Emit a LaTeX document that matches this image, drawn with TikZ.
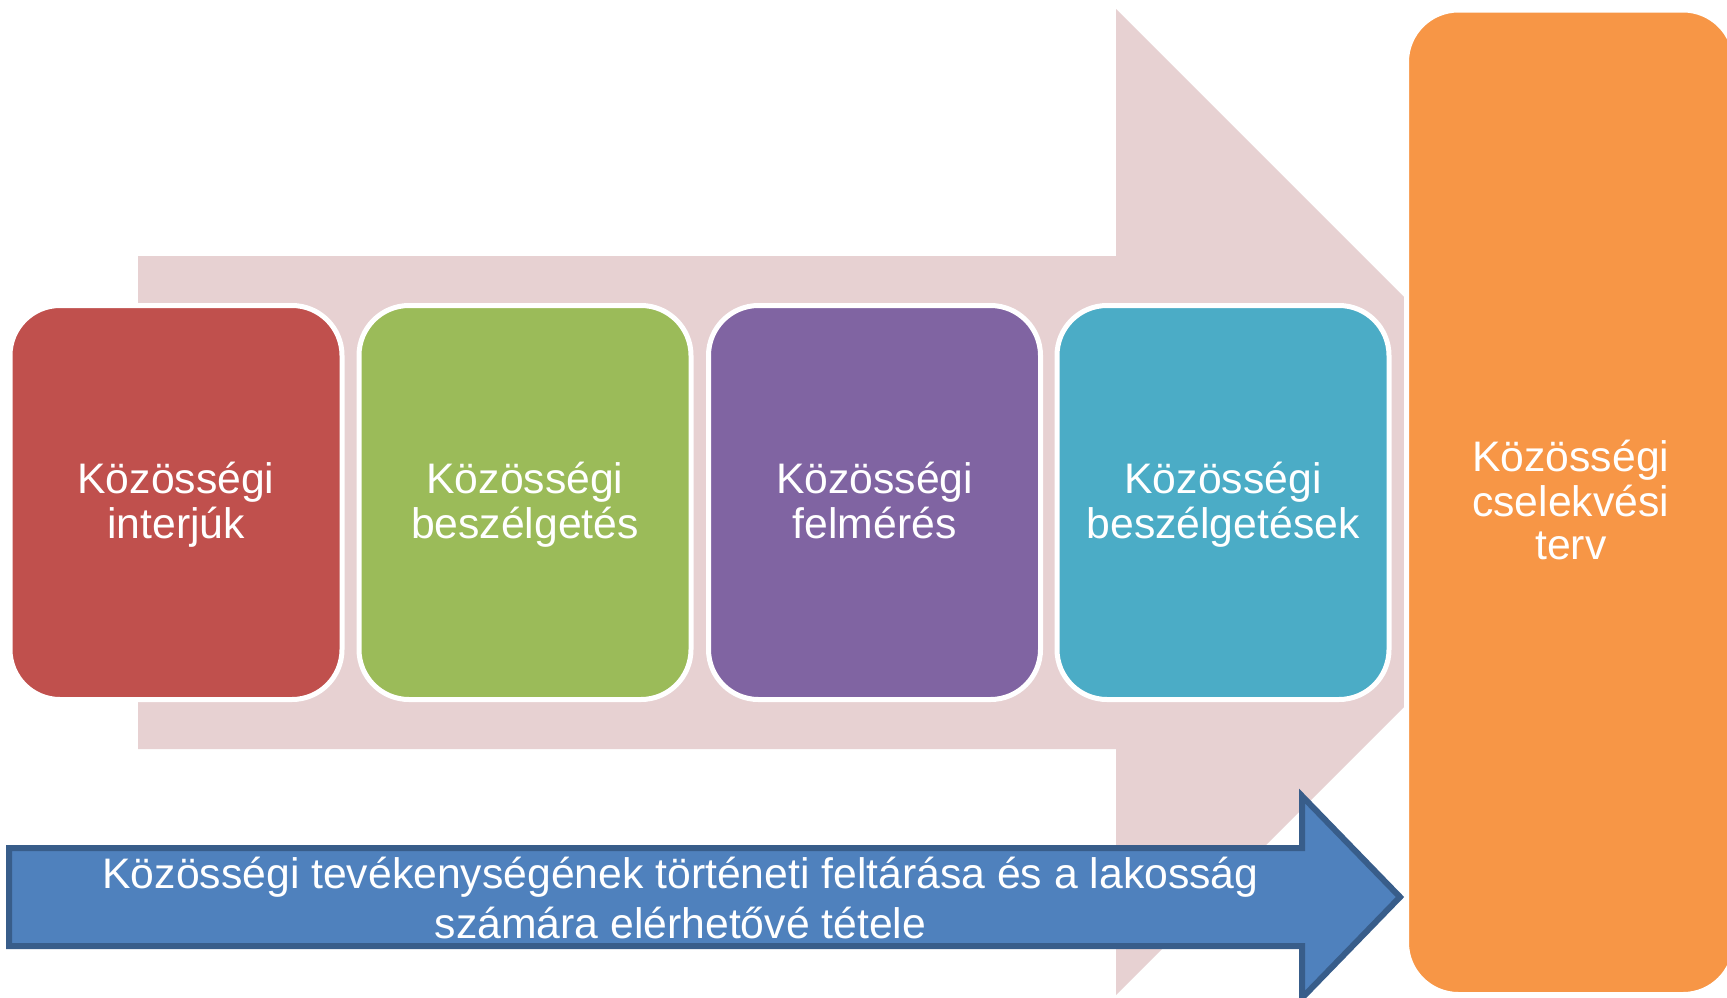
\documentclass[tikz,border=0pt]{standalone}
\usepackage{fontspec}
\setmainfont{Liberation Sans}
\definecolor{pinkbg}{HTML}{E7D1D2}
\definecolor{cred}{HTML}{C0504D}
\definecolor{cgreen}{HTML}{9BBB59}
\definecolor{cpurple}{HTML}{8064A2}
\definecolor{cteal}{HTML}{4BACC6}
\definecolor{corange}{HTML}{F79646}
\definecolor{cblue}{HTML}{4F81BD}
\definecolor{cblueline}{HTML}{385D8A}
\newcommand\mystrut{\rule[-8.5pt]{0pt}{43.5pt}}
\tikzset{
  stagebox/.style={rectangle, rounded corners=50pt, draw=white, line width=5pt,
    minimum width=332pt, minimum height=394pt, inner sep=0pt, text=white,
    align=center, font=\fontsize{42.7}{43.5}\selectfont},
  goalbox/.style={rectangle, rounded corners=52pt, draw=white, line width=5pt,
    fill=corange, minimum width=328.5pt, minimum height=984.5pt, inner sep=0pt,
    text=white, align=center, font=\fontsize{42.7}{43.5}\selectfont},
  arrowtext/.style={text=white, align=center, inner sep=0pt,
    font=\fontsize{42.7}{50}\selectfont}
}
\begin{document}
\begin{tikzpicture}[x=1pt,y=-1pt]
\useasboundingbox (0,0) rectangle (1727,997);
\fill[white] (0,0) rectangle (1727,997);
% big background arrow
\fill[pinkbg] (138,256) -- (1116,256) -- (1116,9) -- (1404,297) -- (1404,707)
  -- (1116,995) -- (1116,749) -- (138,749) -- cycle;
% stages
\node[stagebox, fill=cred]    (s1) at (176,502.5)  {\mystrut Közösségi\\\mystrut interjúk};
\node[stagebox, fill=cgreen]  (s2) at (525,502.5)  {\mystrut Közösségi\\\mystrut beszélgetés};
\node[stagebox, fill=cpurple] (s3) at (874.5,502.5) {\mystrut Közösségi\\\mystrut felmérés};
\node[stagebox, fill=cteal]   (s4) at (1223,502.5) {\mystrut Közösségi\\\mystrut beszélgetések};
% goal
\node[goalbox] (goal) at (1570.75,502.25) {\mystrut Közösségi\\\mystrut cselekvési\\\mystrut terv};
% bottom blue arrow
\draw[fill=cblue, draw=cblueline, line width=6pt]
  (9,848) -- (1302,848) -- (1302,796) -- (1400,897) -- (1302,998) -- (1302,946)
  -- (9,946) -- cycle;
\node[arrowtext] (hist) at (680.5,899.75)
  {\mystrut Közösségi tevékenységének történeti feltárása és a lakosság\\\mystrut számára elérhetővé tétele};
\end{tikzpicture}
\end{document}
